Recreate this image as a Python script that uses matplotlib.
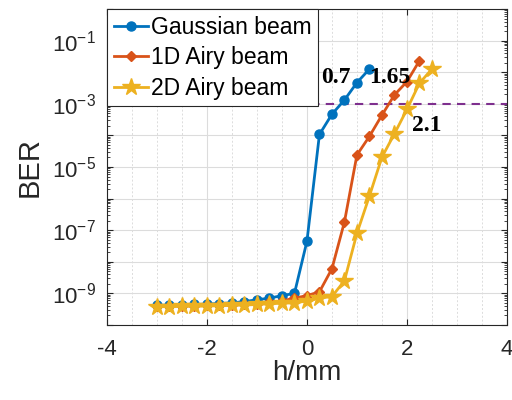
import numpy as np
import matplotlib
matplotlib.use('Agg')
import matplotlib.pyplot as plt
from matplotlib.ticker import FixedLocator, LogLocator, NullFormatter, FuncFormatter

# h positions (mm)
h_gauss = np.arange(-3, 1.26, 0.25)
h_1d = np.arange(-3, 2.26, 0.25)
h_2d = np.arange(-3, 2.51, 0.25)

# log10(BER)
log_gauss = [-9.38, -9.37, -9.36, -9.35, -9.34, -9.32, -9.30, -9.26, -9.20,
             -9.15, -9.07, -9.00, -7.35, -3.97, -3.33, -2.88, -2.33, -1.90]
log_1d = [-9.40, -9.40, -9.39, -9.39, -9.38, -9.37, -9.36, -9.34, -9.32,
          -9.28, -9.24, -9.15, -9.07, -8.95, -8.22, -6.74, -4.62, -4.03,
          -3.36, -2.72, -2.30, -1.64]
log_2d = [-9.42, -9.42, -9.41, -9.41, -9.40, -9.39, -9.38, -9.37, -9.35,
          -9.33, -9.31, -9.30, -9.24, -9.15, -9.10, -8.60, -7.10, -5.92,
          -4.69, -3.95, -3.18, -2.35, -1.90]

threshold = 1e-3
notes = [('0.7', 0.58, 7e-3), ('1.65', 1.66, 7e-3), ('2.1', 2.4, 2e-4)]

ber_gauss = 10.0 ** np.array(log_gauss)
ber_1d = 10.0 ** np.array(log_1d)
ber_2d = 10.0 ** np.array(log_2d)

plt.rcParams['font.family'] = ['Liberation Sans', 'DejaVu Sans']
plt.rcParams['mathtext.fontset'] = 'custom'
plt.rcParams['mathtext.rm'] = 'Liberation Sans'
plt.rcParams['axes.unicode_minus'] = False

fig = plt.figure(figsize=(5.12, 4.0), dpi=100)
ax = fig.add_axes([0.209, 0.1875, 0.781, 0.79])

ax.plot(h_gauss, ber_gauss, '-o', color='#0072BD', lw=2.0, ms=6.5,
        label='Gaussian beam', zorder=3)
ax.plot(h_1d, ber_1d, '-D', color='#D95319', lw=2.0, ms=5.5,
        label='1D Airy beam', zorder=3)
ax.plot(h_2d, ber_2d, '-*', color='#EDB120', lw=2.0, ms=13,
        label='2D Airy beam', zorder=3)
ax.axhline(threshold, color='#7E2F8E', ls='--', lw=1.5, dashes=(4, 3), zorder=2)

for txt, x, y in notes:
    ax.text(x, y, txt, family='Liberation Serif', fontweight='bold',
            fontsize=17, ha='center', va='center', zorder=4)

ax.set_yscale('log')
ax.set_xlim(-4, 4)
ax.set_ylim(1e-10, 1)
ax.set_xticks([-4, -2, 0, 2, 4])
ax.xaxis.set_minor_locator(FixedLocator(np.arange(-4, 4.01, 0.5)))
ax.yaxis.set_major_locator(FixedLocator([10.0 ** k for k in range(-10, 1)]))
ax.yaxis.set_major_formatter(FuncFormatter(
    lambda v, p: r'$10^{%d}$' % round(np.log10(v)) if round(np.log10(v)) % 2 else ''))
ax.yaxis.set_minor_locator(LogLocator(base=10, subs=np.arange(2, 10), numticks=20))
ax.yaxis.set_minor_formatter(NullFormatter())

ax.grid(True, which='major', color='#dcdcdc', lw=0.8)
ax.grid(True, which='minor', axis='x', color='#dcdcdc', lw=0.7, ls=(0, (2, 2)))
ax.tick_params(which='both', direction='in', top=True, right=True,
               labelsize=16, colors='#262626')
ax.tick_params(which='major', length=4)
ax.tick_params(which='minor', length=2)
ax.tick_params(axis='x', which='minor', length=0)
ax.tick_params(axis='x', which='major', pad=10)
ax.tick_params(axis='y', which='major', pad=8)
for s in ax.spines.values():
    s.set_color('#262626')
    s.set_linewidth(0.8)

ax.set_xlabel('h/mm', fontsize=20, color='#262626', labelpad=0)
ax.set_ylabel('BER', fontsize=21, color='#262626', labelpad=6)

leg = ax.legend(loc='upper left', fontsize=16.5, frameon=True, fancybox=False,
                edgecolor='#262626', borderaxespad=0, handlelength=1.5,
                handletextpad=0.1, borderpad=0.3, labelspacing=0.32,
                framealpha=1)
leg.get_frame().set_linewidth(0.8)

fig.savefig('out.png', dpi=100)
